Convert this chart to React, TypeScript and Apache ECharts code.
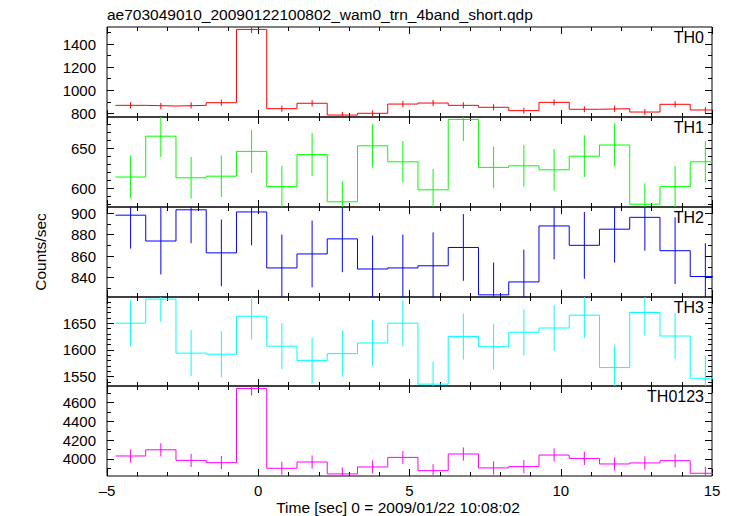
import { useEffect, useRef } from 'react';
import * as echarts from 'echarts';

// ---- data ----
const timeCenters = [-4.22, -3.22, -2.22, -1.22, -0.22, 0.78, 1.78, 2.78, 3.78, 4.78, 5.78, 6.78, 7.78, 8.78, 9.78, 10.78, 11.78, 12.78, 13.78, 14.78];
const binHalfWidth = 0.5;

const th0Rate = [869, 863, 869, 892, 1527, 840, 887, 785, 800, 880, 889, 869, 852, 823, 895, 835, 840, 811, 878, 829];
const th0Err = [27, 27, 27, 27, 31, 27, 27, 26, 26, 27, 27, 27, 27, 26, 27, 26, 27, 26, 27, 26];
const th1Rate = [614, 665, 613, 615, 646, 602, 642, 583, 653, 633, 598, 686, 626, 628, 623, 640, 654, 580, 602, 633];
const th1Err = [27, 26, 26, 26, 27, 26, 27, 26, 27, 26, 26, 27, 26, 26, 26, 26, 27, 26, 26, 26];
const th2Rate = [898, 874, 903, 863, 901, 849, 862, 876, 848, 849, 851, 868, 824, 836, 888, 870, 885, 896, 865, 841];
const th2Err = [31, 31, 31, 31, 31, 31, 31, 31, 31, 31, 31, 31, 30, 30, 31, 31, 31, 31, 31, 31];
const th3Rate = [1650, 1695, 1594, 1592, 1663, 1607, 1580, 1593, 1613, 1650, 1536, 1625, 1606, 1633, 1641, 1665, 1567, 1670, 1626, 1547];
const th3Err = [43, 43, 43, 43, 43, 43, 43, 43, 43, 43, 42, 43, 43, 43, 43, 43, 42, 43, 43, 42];
const th0123Rate = [4032, 4098, 3985, 3961, 4751, 3901, 3968, 3841, 3915, 4017, 3876, 4053, 3905, 3919, 4042, 4006, 3947, 3958, 3982, 3848];
const th0123Err = [70, 70, 70, 70, 75, 70, 70, 69, 70, 70, 69, 70, 70, 70, 70, 70, 70, 70, 70, 69];

const panelNames = ['TH0', 'TH1', 'TH2', 'TH3', 'TH0123'];
const panelColors = ['#ff0000', '#00ff00', '#0000ff', '#00ffff', '#ff00ff'];
const panelMin = [768, 576.5, 822, 1532.5, 3819];
const panelMax = [1548, 689, 905.6, 1699, 4777];
const th0Major = [800, 1000, 1200, 1400];
const th0Minor = [800, 900, 1000, 1100, 1200, 1300, 1400, 1500];
const th1Major = [600, 650];
const th1Minor = [580, 590, 600, 610, 620, 630, 640, 650, 660, 670, 680];
const th2Major = [840, 860, 880, 900];
const th2Minor = [830, 840, 850, 860, 870, 880, 890, 900];
const th3Major = [1550, 1600, 1650];
const th3Minor = [1540, 1550, 1560, 1570, 1580, 1590, 1600, 1610, 1620, 1630, 1640, 1650, 1660, 1670, 1680, 1690];
const th0123Major = [4000, 4200, 4400, 4600];
const th0123Minor = [3900, 4000, 4100, 4200, 4300, 4400, 4500, 4600, 4700];
const xMin = -5;
const xMax = 15;
const xInterval = 5;

const titleText = 'ae703049010_20090122100802_wam0_trn_4band_short.qdp';
const xName = 'Time [sec] 0 = 2009/01/22 10:08:02';
const yName = 'Counts/sec';

// ---- layout ----
const FONT = '"Liberation Sans", Arial, Helvetica, sans-serif';
const plotLeft = 107;
const plotWidth = 605;
const panelTops = [27, 117, 207, 297, 386];
const panelHeights = [90, 90, 90, 89, 90];

const App = () => {
  const ref = useRef<HTMLDivElement>(null);
  useEffect(() => {
    if (!ref.current) return;
    const chart = echarts.init(ref.current, null, { renderer: 'svg' });
    const rates = [th0Rate, th1Rate, th2Rate, th3Rate, th0123Rate];
    const errs = [th0Err, th1Err, th2Err, th3Err, th0123Err];
    const majors = [th0Major, th1Major, th2Major, th3Major, th0123Major];
    const minors = [th0Minor, th1Minor, th2Minor, th3Minor, th0123Minor];

    const grids: any[] = [];
    const xAxes: any[] = [];
    const yAxes: any[] = [];
    const series: any[] = [];
    const graphics: any[] = [];

    const tickStyle = { color: '#000', width: 1 };

    panelNames.forEach((name, i) => {
      grids.push({
        left: plotLeft,
        top: panelTops[i],
        width: plotWidth,
        height: panelHeights[i],
        show: true,
        borderColor: '#000',
        borderWidth: 1,
        backgroundColor: 'transparent',
      });
      const isLast = i === panelNames.length - 1;
      ['bottom', 'top'].forEach((pos) => {
        xAxes.push({
          gridIndex: i,
          type: 'value',
          position: pos,
          min: xMin,
          max: xMax,
          interval: xInterval,
          axisLine: { show: false, onZero: false },
          axisTick: { show: true, inside: true, length: 7, lineStyle: tickStyle },
          minorTick: { show: true, splitNumber: 5, length: 4, lineStyle: tickStyle },
          splitLine: { show: false },
          axisLabel: {
            show: isLast && pos === 'bottom',
            color: '#000',
            fontSize: 15,
            fontFamily: FONT,
            margin: 7,
            formatter: (v: number) => (v < 0 ? '\u2013' + Math.abs(v) : String(v)),
          },
        });
      });
      ['left', 'right'].forEach((pos) => {
        yAxes.push({
          gridIndex: i,
          type: 'value',
          position: pos,
          min: panelMin[i],
          max: panelMax[i],
          axisLine: { show: false, onZero: false },
          axisTick: { show: true, inside: true, length: 7, customValues: majors[i], lineStyle: tickStyle },
          splitLine: { show: false },
          axisLabel: {
            show: pos === 'left',
            customValues: majors[i],
            color: '#000',
            fontSize: 15,
            fontFamily: FONT,
            margin: 11,
            formatter: (v: number) => String(v),
          },
        });
        yAxes.push({
          gridIndex: i,
          type: 'value',
          position: pos,
          min: panelMin[i],
          max: panelMax[i],
          axisLine: { show: false, onZero: false },
          axisTick: { show: true, inside: true, length: 4, customValues: minors[i], lineStyle: tickStyle },
          splitLine: { show: false },
          axisLabel: { show: false, customValues: minors[i] },
        });
      });

      const rate = rates[i];
      const err = errs[i];
      const color = panelColors[i];
      const stepData: number[][] = rate.map((v, k) => [timeCenters[k] - binHalfWidth, v]);
      stepData.push([timeCenters[rate.length - 1] + binHalfWidth, rate[rate.length - 1]]);

      series.push({
        type: 'line',
        xAxisIndex: 2 * i,
        yAxisIndex: 4 * i,
        step: 'end',
        symbol: 'none',
        clip: true,
        data: stepData,
        lineStyle: { color, width: 1 },
        silent: true,
      });
      series.push({
        type: 'custom',
        xAxisIndex: 2 * i,
        yAxisIndex: 4 * i,
        silent: true,
        data: rate.map((v, k) => [timeCenters[k], v, err[k]]),
        encode: { x: 0, y: 1 },
        renderItem: (params: any, api: any) => {
          const x = api.value(0);
          const y = api.value(1);
          const e = api.value(2);
          const p1 = api.coord([x, y + e]);
          const p2 = api.coord([x, y - e]);
          const cs = params.coordSys;
          const clampY = (v: number) => Math.max(cs.y, Math.min(cs.y + cs.height, v));
          if (p1[0] < cs.x || p1[0] > cs.x + cs.width) return null;
          return {
            type: 'line',
            shape: { x1: p1[0], y1: clampY(p1[1]), x2: p2[0], y2: clampY(p2[1]) },
            style: { stroke: color, lineWidth: 1 },
          };
        },
      });

      graphics.push({
        type: 'text',
        x: plotLeft + plotWidth - 8,
        y: panelTops[i] + 10.5,
        style: {
          text: name,
          fill: '#000',
          font: `16px ${FONT}`,
          align: 'right',
          verticalAlign: 'middle',
        },
      });
    });

    graphics.push({
      type: 'text',
      x: plotLeft,
      y: 14,
      style: { text: titleText, fill: '#000', font: `15.5px ${FONT}`, align: 'left', verticalAlign: 'middle' },
    });
    graphics.push({
      type: 'text',
      x: 398,
      y: 507,
      style: { text: xName, fill: '#000', font: `15.5px ${FONT}`, align: 'center', verticalAlign: 'middle' },
    });
    graphics.push({
      type: 'text',
      x: 40,
      y: 252,
      rotation: Math.PI / 2,
      style: { text: yName, fill: '#000', font: `15.5px ${FONT}`, align: 'center', verticalAlign: 'middle' },
    });

    chart.setOption({
      animation: false,
      backgroundColor: '#fff',
      grid: grids,
      xAxis: xAxes,
      yAxis: yAxes,
      series,
      graphic: graphics,
    });
    return () => chart.dispose();
  }, []);
  return (
    <div
      ref={ref}
      style={{ position: 'fixed', left: 0, top: 0, width: 733, height: 516, background: '#fff' }}
    />
  );
};

export default App;
